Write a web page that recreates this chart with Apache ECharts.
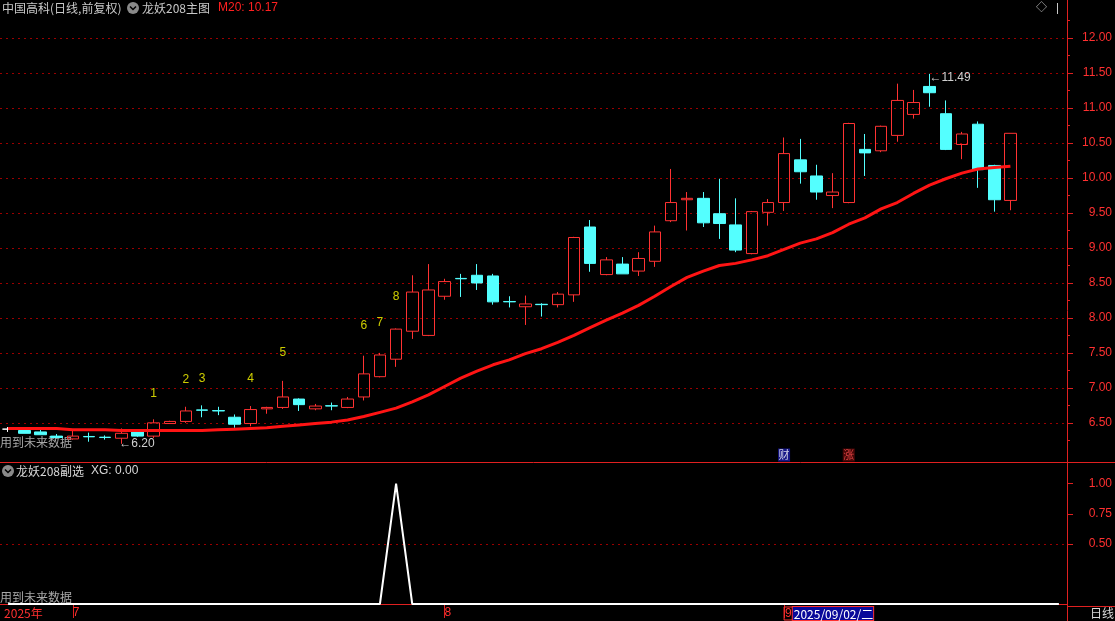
<!DOCTYPE html>
<html><head><meta charset="utf-8">
<script src="https://cdn.jsdelivr.net/npm/echarts@6/dist/echarts.min.js"></script>
<style>html,body{margin:0;padding:0;background:#000;}#c{width:1115px;height:621px;}</style>
</head><body><div id="c"></div>
<script>
// ---- data ----
const dates = [
 '2025-06-25','2025-06-26','2025-06-27','2025-06-30',
 '2025-07-01','2025-07-02','2025-07-03','2025-07-04','2025-07-07','2025-07-08','2025-07-09','2025-07-10','2025-07-11',
 '2025-07-14','2025-07-15','2025-07-16','2025-07-17','2025-07-18','2025-07-21','2025-07-22','2025-07-23','2025-07-24',
 '2025-07-25','2025-07-28','2025-07-29','2025-07-30','2025-07-31',
 '2025-08-01','2025-08-04','2025-08-05','2025-08-06','2025-08-07','2025-08-08','2025-08-11','2025-08-12','2025-08-13',
 '2025-08-14','2025-08-15','2025-08-18','2025-08-19','2025-08-20','2025-08-21','2025-08-22','2025-08-25','2025-08-26',
 '2025-08-27','2025-08-28','2025-08-29',
 '2025-09-01','2025-09-02','2025-09-03','2025-09-04','2025-09-05','2025-09-08','2025-09-09','2025-09-10','2025-09-11',
 '2025-09-12','2025-09-15','2025-09-16','2025-09-17','2025-09-18','2025-09-19'
];
const openP  = [6.41,6.39,6.37,6.31,6.27,6.305,6.295,6.28,6.38,6.31,6.49,6.52,6.685,6.675,6.58,6.49,6.70,6.72,6.84,6.70,6.745,6.72,6.87,7.16,7.41,7.81,7.75,8.31,8.565,8.61,8.60,8.235,8.16,8.195,8.19,8.33,9.30,8.62,8.77,8.67,8.81,9.39,9.69,9.71,9.49,9.33,8.92,9.51,9.65,10.26,10.03,9.75,9.65,10.41,10.39,10.61,10.91,11.31,10.92,10.48,10.77,10.18,9.68];
const closeP = [6.41,6.35,6.33,6.29,6.31,6.30,6.29,6.35,6.31,6.50,6.52,6.67,6.68,6.67,6.48,6.69,6.72,6.87,6.76,6.74,6.74,6.84,7.20,7.47,7.84,8.37,8.40,8.52,8.56,8.50,8.23,8.23,8.20,8.19,8.34,9.15,8.78,8.83,8.63,8.85,9.23,9.65,9.71,9.36,9.35,8.97,9.52,9.65,10.35,10.09,9.80,9.80,10.78,10.36,10.74,11.11,11.08,11.22,10.41,10.63,10.12,9.69,10.64];
const lowP   = [6.37,6.35,6.33,6.28,6.26,6.23,6.26,6.20,6.30,6.28,6.49,6.50,6.58,6.61,6.43,6.45,6.63,6.70,6.67,6.68,6.68,6.71,6.82,7.15,7.30,7.70,7.74,8.26,8.30,8.40,8.19,8.15,7.90,8.02,8.15,8.23,8.66,8.61,8.63,8.60,8.73,9.37,9.25,9.30,9.13,8.94,8.91,9.32,9.53,9.92,9.69,9.57,9.64,10.03,10.37,10.52,10.85,11.02,10.40,10.27,9.86,9.52,9.54];
const highP  = [6.44,6.42,6.41,6.34,6.40,6.36,6.32,6.42,6.39,6.55,6.53,6.73,6.75,6.73,6.62,6.74,6.73,7.10,6.85,6.77,6.79,6.87,7.46,7.50,7.85,8.61,8.77,8.56,8.63,8.77,8.63,8.31,8.32,8.21,8.37,9.16,9.40,8.87,8.87,8.94,9.32,10.13,9.80,9.80,9.99,9.71,9.53,9.70,10.58,10.56,10.19,10.07,10.79,10.63,10.75,11.35,11.26,11.49,11.11,10.66,10.81,10.19,10.64];
const ma20   = [6.42,6.42,6.42,6.42,6.40,6.40,6.40,6.39,6.39,6.39,6.39,6.39,6.39,6.40,6.41,6.42,6.43,6.45,6.47,6.49,6.51,6.54,6.59,6.65,6.71,6.80,6.90,7.02,7.14,7.24,7.33,7.40,7.49,7.56,7.65,7.75,7.86,7.97,8.07,8.18,8.31,8.45,8.58,8.67,8.75,8.78,8.83,8.89,8.98,9.07,9.13,9.22,9.34,9.43,9.56,9.65,9.78,9.90,9.99,10.07,10.13,10.15,10.17];
// XG: 0 everywhere (it stays at 0 out to the right edge) except one bar
const xg     = [0,0,0,0,0,0,0,0,0,0,0,0,0,0,0,0,0,0,0,0,0,0,0,0,1,0,0,0,0,0,0,0,0,0,0,0,0,0,0,0,0,0,0,0,0,0,0,0,0,0,0,0,0,0,0,0,0,0,0,0,0,0,0,0,0,0];
const signalIdx  = [9,11,12,15,17,22,23,24];
const signalText = ['1','2','3','4','5','6','7','8'];
const eventIdx  = [48,52];
const eventText = ['财','涨'];
const priceTicks = [6.5,7.0,7.5,8.0,8.5,9.0,9.5,10.0,10.5,11.0,11.5,12.0];
const priceMinorTicks = [6.25,6.75,7.25,7.75,8.25,8.75,9.25,9.75,10.25,10.75,11.25,11.75,12.25];
const subTicks = [0.5,0.75,1.0];
const cursorIdx = 49;
const padSlots = 3;

// ---- build ----
const RED = '#ff3232', CYAN = '#54ffff', AXR = '#e02020', GRID = '#9a0000';
const priceMin = 5.94, priceMax = 12.26;
const categories = dates.concat(new Array(padSlots).fill(''));
const kData = dates.map((d,i)=>[openP[i],closeP[i],lowP[i],highP[i]]);
const month = d => d ? +d.slice(5,7) : null;
const isMonthStart = i => i>0 && i<dates.length && month(dates[i]) !== month(dates[i-1]);
const wk = ['日','一','二','三','四','五','六'];
const cd = dates[cursorIdx];
const cursorLabel = cd.replace(/-/g,'/') + '/' + wk[new Date(cd+'T00:00:00').getDay()];
const eventStyle = {'财':{bg:'#1c1ca8', fg:'#ffffff'}, '涨':{bg:'#5a0a0a', fg:'#ff5050'}};

const chart = echarts.init(document.getElementById('c'), null, {renderer:'canvas'});
const FONT = 'Liberation Sans, Arial, Noto Sans CJK SC, sans-serif';
const CJK = 'Noto Sans CJK SC, sans-serif';

chart.setOption({
  backgroundColor:'#000',
  animation:false,
  textStyle:{fontFamily:FONT},
  grid:[
    {left:-2, right:47, top:20, bottom:159},
    {left:-2, right:47, top:463, bottom:15}
  ],
  xAxis:[
    {type:'category', gridIndex:0, data:categories, boundaryGap:true,
     axisLine:{show:true, lineStyle:{color:AXR, width:1}}, axisTick:{show:false}, axisLabel:{show:false}, splitLine:{show:false}},
    {type:'category', gridIndex:1, data:categories, boundaryGap:true,
     axisLine:{show:true, lineStyle:{color:AXR, width:1}},
     axisTick:{show:true, alignWithLabel:true, interval:(i)=>isMonthStart(i), length:14, lineStyle:{color:AXR}},
     axisLabel:{show:true, interval:(i)=>i===0||isMonthStart(i), align:'left', margin:3, color:'#ff3030', fontSize:12, fontFamily:FONT,
       formatter:(v,i)=>{
         if(i===0) return '{y|'+v.slice(0,4)+'年}';
         if(i===cursorIdx-1) return '{m|'+month(v)+'}{d|'+cursorLabel+'}';
         return '{n|'+month(v)+'}';
       },
       rich:{
         y:{color:'#ff3030', fontSize:12, fontFamily:CJK, padding:[0,0,0,-4]},
         n:{color:'#ff3030', fontSize:12, padding:[0,0,0,0]},
         m:{color:'#ff3030', fontSize:12, borderColor:'#ff3030', borderWidth:1, padding:[1,1,0,1]},
         d:{color:'#ffffff', fontSize:12, backgroundColor:'#0a0a9a', borderColor:'#ff3030', borderWidth:1, padding:[1,0,0,1], fontFamily:CJK}
       }},
     splitLine:{show:false}}
  ],
  yAxis:[
    {type:'value', gridIndex:0, position:'right', min:priceMin, max:priceMax, scale:true,
     axisLine:{show:false},
     axisTick:{show:true, customValues:priceTicks, length:6, lineStyle:{color:AXR}},
     axisLabel:{show:true, customValues:priceTicks, formatter:v=>v.toFixed(2), color:'#ff3030', fontSize:12, align:'right', margin:45},
     splitLine:{show:false}},
    {type:'value', gridIndex:0, position:'right', min:priceMin, max:priceMax, scale:true,
     axisLine:{show:false},
     axisTick:{show:true, customValues:priceMinorTicks, length:3, lineStyle:{color:AXR}},
     axisLabel:{show:false}, splitLine:{show:false}},
    {type:'value', gridIndex:1, position:'right', min:0, max:1.172,
     axisLine:{show:false},
     axisTick:{show:true, customValues:subTicks, length:6, lineStyle:{color:AXR}},
     axisLabel:{show:true, customValues:subTicks, formatter:v=>v.toFixed(2), color:'#ff3030', fontSize:12, align:'right', margin:45},
     splitLine:{show:false}}
  ],
  series:[
    {type:'line', name:'grid', xAxisIndex:0, yAxisIndex:0, data:[], silent:true, z:0,
     markLine:{silent:true, z:0, symbol:['none','none'], label:{show:false},
       lineStyle:{color:GRID, type:[2,4], width:1}, data:priceTicks.map(v=>({yAxis:v}))}},
    {type:'candlestick', name:'K', xAxisIndex:0, yAxisIndex:0, data:kData, barWidth:12, z:2,
     itemStyle:{color:'transparent', color0:CYAN, borderColor:RED, borderColor0:CYAN, borderColorDoji:'#ffffff', borderWidth:1},
     markPoint:{symbol:'circle', symbolSize:0, silent:true,
       label:{show:true, position:'right', distance:0, color:'#d0d0d0', fontSize:12, formatter:p=>'←'+p.value.toFixed(2)},
       data:[{type:'max', valueDim:'highest', label:{offset:[0,4]}},{type:'min', valueDim:'lowest', label:{offset:[-2,0]}}]}},
    {type:'line', name:'MA20', xAxisIndex:0, yAxisIndex:0, data:ma20, symbol:'none', smooth:false,
     lineStyle:{color:'#ff1414', width:3}, z:3},
    {type:'scatter', name:'sig', xAxisIndex:0, yAxisIndex:0, symbolSize:0, silent:true, z:4,
     data:signalIdx.map(i=>[i, highP[i]*1.057]),
     label:{show:true, position:'inside', color:'#ffff00', fontSize:12, formatter:p=>signalText[p.dataIndex]}},
    {type:'scatter', name:'evt', xAxisIndex:0, yAxisIndex:0, symbol:'rect', symbolSize:[12,13], silent:true, z:4,
     data:eventIdx.map((i,k)=>({value:[i, priceMin+0.1],
        itemStyle:{color:eventStyle[eventText[k]].bg},
        label:{color:eventStyle[eventText[k]].fg}})),
     label:{show:true, position:'inside', fontSize:11, fontFamily:CJK, formatter:p=>eventText[p.dataIndex]}},
    {type:'line', name:'XG', xAxisIndex:1, yAxisIndex:2, data:xg, symbol:'none', lineStyle:{color:'#ffffff', width:2}, z:3,
     markLine:{silent:true, z:0, symbol:['none','none'], label:{show:false},
       lineStyle:{color:GRID, type:[2,4], width:1}, data:[{yAxis:0.5}]}}
  ],
  graphic:[
    {type:'line', shape:{x1:1067.5,y1:0,x2:1067.5,y2:621}, style:{stroke:AXR, lineWidth:1}},
    {type:'line', shape:{x1:1068,y1:462.5,x2:1115,y2:462.5}, style:{stroke:AXR, lineWidth:1}},
    {type:'line', shape:{x1:1068,y1:606.5,x2:1115,y2:606.5}, style:{stroke:AXR, lineWidth:1}},
    {type:'text', left:2, top:2, style:{text:'中国高科(日线,前复权)', fill:'#c8c8c8', font:'12px '+CJK}},
    {type:'circle', shape:{cx:133, cy:8, r:6}, style:{fill:'#8a8a8a'}},
    {type:'polyline', shape:{points:[[130,6.5],[133,9.5],[136,6.5]]}, style:{stroke:'#000', lineWidth:1.5, fill:null}},
    {type:'text', left:142, top:2, style:{text:'龙妖208主图', fill:'#c8c8c8', font:'12px '+CJK}},
    {type:'text', left:218, top:2, style:{text:'M20: '+ma20[ma20.length-1].toFixed(2), fill:'#ff2020', font:'12px '+FONT}},
    {type:'text', left:1036, top:1, style:{text:'◇', fill:'#c8c8c8', font:'11px '+CJK}},
    {type:'line', shape:{x1:1057.5,y1:3,x2:1057.5,y2:14}, style:{stroke:'#c8c8c8', lineWidth:1}},
    {type:'text', left:0, top:436, style:{text:'用到未来数据', fill:'#a8a8a8', font:'12px '+CJK}},
    {type:'circle', shape:{cx:8, cy:471, r:6}, style:{fill:'#8a8a8a'}},
    {type:'polyline', shape:{points:[[5,469.5],[8,472.5],[11,469.5]]}, style:{stroke:'#000', lineWidth:1.5, fill:null}},
    {type:'text', left:16, top:465, style:{text:'龙妖208副选', fill:'#d8d8d8', font:'12px '+CJK}},
    {type:'text', left:91, top:465, style:{text:'XG: '+xg[dates.length-1].toFixed(2), fill:'#d8d8d8', font:'12px '+FONT}},
    {type:'text', left:0, top:591, style:{text:'用到未来数据', fill:'#a8a8a8', font:'12px '+CJK}},
    {type:'text', left:1090, top:607, style:{text:'日线', fill:'#d8d8d8', font:'12px '+CJK}}
  ]
});
</script></body></html>
